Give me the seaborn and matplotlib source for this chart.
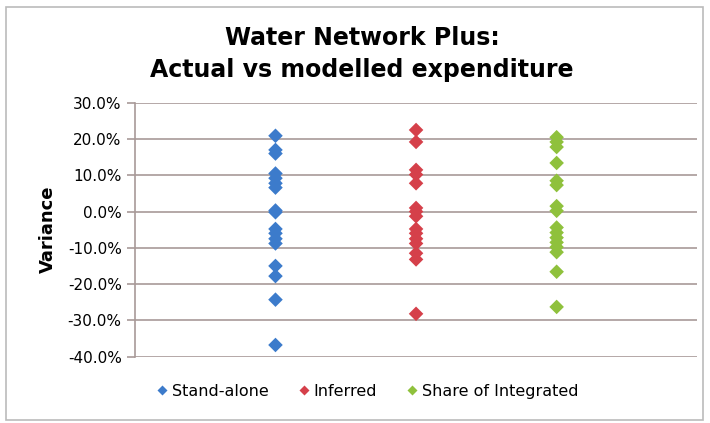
import matplotlib
matplotlib.use("Agg")
import matplotlib.pyplot as plt
import matplotlib.patches as mpatches
from matplotlib.ticker import PercentFormatter
import seaborn as sns
import pandas as pd

# values (variance, %)
stand_alone = [20.9, 17.0, 16.0, 10.5, 9.2, 7.8, 6.6, 0.3, -0.2, -4.8, -6.0, -7.5, -8.8,
               -15.0, -17.8, -24.3, -36.8]
inferred = [22.5, 19.2, 11.5, 10.2, 7.8, 1.0, 0.0, -1.3, -4.8, -6.0, -7.5, -8.8,
            -11.5, -13.2, -28.2]
share_integrated = [20.5, 19.2, 17.8, 13.4, 8.5, 7.3, 1.5, 0.2, -4.4, -5.8, -7.2, -8.5,
                    -9.8, -11.2, -16.6, -26.3]
series_names = ["Stand-alone", "Inferred", "Share of Integrated"]
colors = ["#3C7BCB", "#D5404A", "#8FC13C"]

rows = []
for pos, (name, vals) in enumerate(zip(series_names, [stand_alone, inferred, share_integrated]), start=1):
    for v in vals:
        rows.append({"series": name, "pos": pos, "variance": v / 100})
df = pd.DataFrame(rows)

sns.set_style("white")
plt.rcParams["font.family"] = ["DejaVu Sans"]
plt.rcParams["axes.unicode_minus"] = False
plt.rcParams["text.color"] = "black"
plt.rcParams["ytick.labelcolor"] = "black"

fig = plt.figure(figsize=(7.1, 4.23), dpi=100)
ax = fig.add_axes([0.190, 0.157, 0.792, 0.600])

sns.scatterplot(data=df, x="pos", y="variance", hue="series", hue_order=series_names,
                palette=colors, marker="D", s=55, edgecolor="none", ax=ax, zorder=3)

ax.set_xlim(0, 4)
ax.set_ylim(-0.4, 0.3)
ax.set_yticks([i / 10 for i in range(-4, 4)])
ax.yaxis.set_major_formatter(PercentFormatter(1.0, decimals=1))
ax.set_xticks([])
ax.set_xlabel("")
ax.set_ylabel("Variance", fontsize=13, fontweight="bold", labelpad=8, color="black")
ax.grid(axis="y", color="#A89A98", linewidth=1.2)
ax.tick_params(axis="y", labelsize=11, length=6, color="#A89A98", width=1.2, left=True)
for side in ["top", "right", "bottom"]:
    ax.spines[side].set_visible(False)
ax.spines["left"].set_color("#A89A98")
ax.spines["left"].set_linewidth(1.2)

fig.text(0.51, 0.910, "Water Network Plus:", ha="center", va="center",
         fontsize=17, fontweight="bold")
fig.text(0.51, 0.835, "Actual vs modelled expenditure", ha="center", va="center",
         fontsize=17, fontweight="bold")

leg = ax.legend(loc="upper center", bbox_to_anchor=(0.41, -0.05), ncol=3, frameon=False,
                fontsize=11.5, handletextpad=0.0, handlelength=1.2, columnspacing=1.6,
                markerscale=0.75)
for t in leg.get_texts():
    t.set_color("black")

fig.patches.append(mpatches.Rectangle((0.008, 0.008), 0.982, 0.975, transform=fig.transFigure,
                                      fill=False, edgecolor="#BBBBBB", linewidth=1.2))

fig.savefig("out.png", dpi=100)
